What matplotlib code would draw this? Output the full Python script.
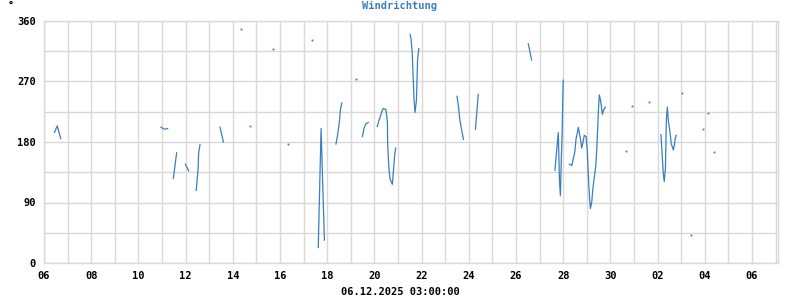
import numpy as np
import matplotlib
matplotlib.use("Agg")
import matplotlib.pyplot as plt

nan = np.nan
# day offset since 06.11.2025 00:00, wind direction in degrees (nan = gap)
day = [0.44, 0.56, 0.71, nan,
       4.96, 5.10, 5.24, nan,
       5.48, 5.55, 5.62, nan,
       5.99, 6.13, nan,
       6.45, 6.53, 6.55, 6.61, nan,
       7.46, 7.60, nan,
       8.35, nan, 8.74, nan, 9.72, nan, 10.35, nan, 11.37, nan,
       11.62, 11.74, 11.88, nan,
       12.37, 12.43, 12.51, 12.56, 12.62, nan,
       13.23, nan,
       13.49, 13.56, 13.63, 13.74, nan,
       14.12, 14.19, 14.27, 14.32, 14.38, 14.49, 14.55, 14.56, 14.61, 14.66, 14.76, 14.82, 14.86, 14.90, nan,
       15.51, 15.55, 15.60, 15.64, 15.68, 15.72, 15.78, 15.83, 15.88, nan,
       17.50, 17.56, 17.62, 17.70, 17.77, nan,
       18.28, 18.34, 18.40, nan,
       20.52, 20.59, 20.66, nan,
       21.65, 21.71, 21.79, 21.84, 21.88, 21.92, 21.95, 21.98, 22.00, nan,
       22.26, 22.36, 22.40, 22.46, 22.50, 22.54, 22.61, 22.64, 22.70, 22.74, 22.78, 22.84, 22.89, 22.97,
       23.02, 23.06, 23.11, 23.15, 23.21, 23.25, 23.32, 23.38, 23.42, 23.46, 23.50, 23.53, 23.57, 23.61,
       23.66, 23.70, 23.74, 23.78, nan,
       24.66, nan, 24.93, nan, 25.65, nan,
       26.14, 26.20, 26.24, 26.28, 26.33, 26.37, 26.41, 26.45, 26.54, 26.58, 26.67, 26.71, 26.75, 26.79, nan,
       27.05, nan, 27.43, nan, 27.94, nan, 28.15, nan, 28.40]
deg = [194, 204, 185, nan,
       202, 199, 200, nan,
       126, 145, 164, nan,
       147, 137, nan,
       108, 140, 163, 176, nan,
       202, 180, nan,
       348, nan, 204, nan, 318, nan, 177, nan, 331, nan,
       23, 200, 34, nan,
       177, 188, 208, 228, 238, nan,
       273, nan,
       188, 200, 207, 209, nan,
       203, 212, 220, 226, 230, 228, 210, 178, 143, 125, 117, 143, 161, 171, nan,
       340, 334, 314, 277, 242, 224, 242, 303, 319, nan,
       248, 233, 213, 198, 184, nan,
       199, 225, 251, nan,
       326, 314, 302, nan,
       138, 163, 194, 124, 100, 156, 186, 243, 272, nan,
       147, 145, 151, 160, 168, 184, 196, 202, 190, 183, 171, 180, 190, 188,
       166, 133, 99, 81, 91, 109, 128, 145, 168, 200, 234, 250, 244, 235,
       221, 227, 229, 232, nan,
       167, nan, 233, nan, 239, nan,
       191, 157, 133, 121, 141, 213, 232, 213, 190, 177, 168, 176, 186, 190, nan,
       253, nan, 41, nan, 200, nan, 223, nan, 165]

xtick_pos = [0, 2, 4, 6, 8, 10, 12, 14, 16, 18, 20, 22, 24, 26, 28, 30]
xtick_labels = ["06", "08", "10", "12", "14", "16", "18", "20", "22", "24",
                "26", "28", "30", "02", "04", "06"]
ytick_pos = [0, 90, 180, 270, 360]
title = "Windrichtung"
xlabel = "06.12.2025 03:00:00"

color = "#3a7ebf"
grid_c = "#d9d9d9"
font = "DejaVu Sans Mono"

fig = plt.figure(figsize=(8, 3), dpi=100)
ax = fig.add_axes([44/800, 37/300, (778-44)/800, (263-21)/300])

x = np.array(day, dtype=float)
y = np.array(deg, dtype=float)
ax.plot(x, y, color=color, lw=0.9)
# isolated points
valid = ~np.isnan(y)
prev_nan = np.concatenate([[True], ~valid[:-1]])
next_nan = np.concatenate([~valid[1:], [True]])
iso = valid & prev_nan & next_nan
ax.plot(x[iso], y[iso], ls="none", marker="s", ms=1.3, mew=0, color=color)

ax.set_xlim(0, 31.1)
ax.set_ylim(0, 360)
ax.set_xticks(xtick_pos)
ax.set_xticklabels(xtick_labels)
ax.set_xticks(np.arange(0, 32, 1), minor=True)
ax.set_yticks(ytick_pos)
ax.set_yticks(np.arange(0, 361, 45), minor=True)
ax.grid(True, which="both", color=grid_c, lw=1.0)
ax.set_axisbelow(True)
for s in ax.spines.values():
    s.set_color(grid_c)
    s.set_linewidth(1.0)
ax.tick_params(which="both", length=0)
ax.tick_params(axis="x", pad=6)
ax.tick_params(axis="y", pad=6)
for lab in ax.get_xticklabels() + ax.get_yticklabels():
    lab.set_fontfamily(font)
    lab.set_fontweight("bold")
    lab.set_fontsize(7.5)

fig.text(400/800, 1 - 6/300, title, ha="center", va="center", color=color,
         fontfamily=font, fontweight="bold", fontsize=7.5)
fig.text(11/800, 1 - 5/300, "°", ha="center", va="center", color="black",
         fontfamily=font, fontweight="bold", fontsize=7.5)
fig.text(400/800, 1 - 292/300, xlabel, ha="center", va="center", color="black",
         fontfamily=font, fontweight="bold", fontsize=7.5)

fig.savefig("out.png", dpi=100)
